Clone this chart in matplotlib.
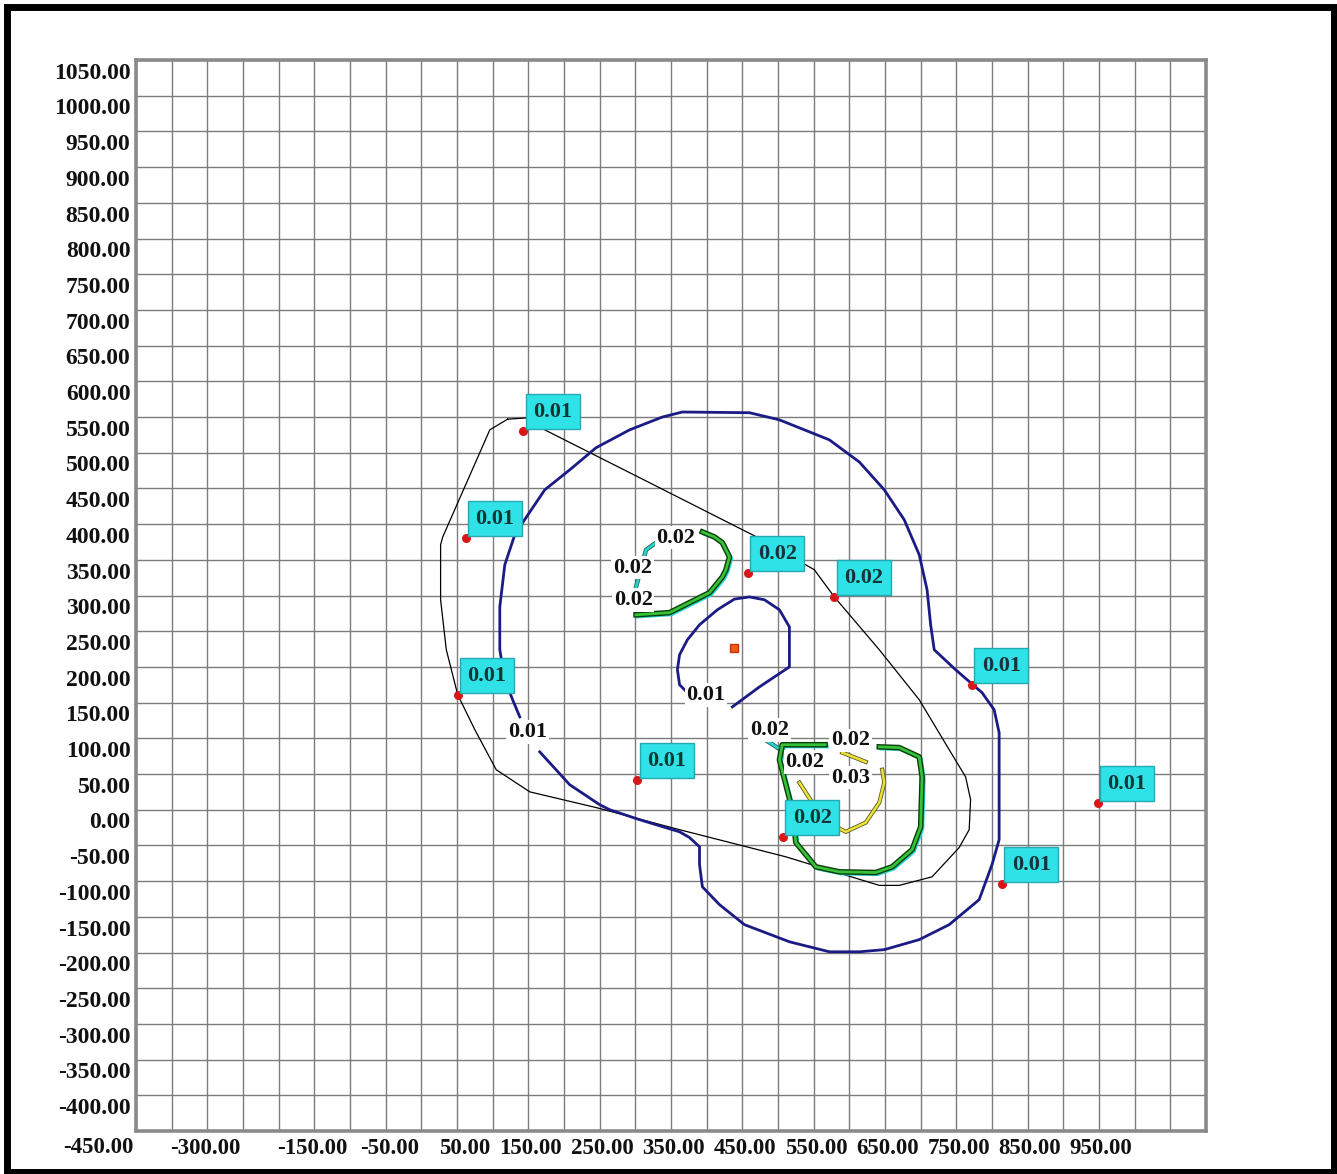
import numpy as np
import matplotlib
matplotlib.use("Agg")
import matplotlib.pyplot as plt
import matplotlib.patheffects as pe
from matplotlib.patches import Rectangle
from matplotlib.transforms import blended_transform_factory, ScaledTranslation

# ---- receptor points and their concentration labels ----
point_x = [93, 12, 408, 529, 722, 1, 253, 457, 764, 898]
point_y = [531, 381, 332, 298, 175, 161, 42, -38, -104, 10]
point_vals = ["0.01", "0.01", "0.02", "0.02", "0.01", "0.01", "0.01", "0.02", "0.01", "0.01"]

# ---- source location ----
source_x = [389]
source_y = [227]

# ---- hull of receptor points (thin black) ----
hull_x = [71, 102, 123, 256, 428, 501, 529, 592, 648, 690, 713, 720, 718, 704, 666,
          620, 592, 461, 312, 195, 102, 55, 25, 1, -15, -23, -23, -20, 46, 71]
hull_y = [547, 549, 532, 465, 378, 336, 298, 224, 154, 84, 46, 14, -28, -53, -94,
          -106, -106, -66, -28, 3, 25, 56, 112, 161, 224, 294, 371, 382, 532, 547]

# ---- 0.01 isoline, outer ----
iso01_outer_x = [88, 78, 67, 60, 60, 67, 81, 92, 123, 158, 195, 242, 288, 316, 410,
                 452, 522, 564, 599, 627, 648, 659, 664, 669, 699, 736, 753, 760, 760,
                 760, 750, 732, 690, 648, 599, 564, 522, 466, 403, 368, 344, 340, 340,
                 326, 312, 256, 214, 200, 158, 116]
iso01_outer_y = [130, 154, 182, 224, 284, 343, 385, 402, 448, 476, 507, 532, 550, 557,
                 556, 546, 518, 487, 448, 406, 357, 308, 259, 224, 196, 164, 140, 108,
                 28, -42, -77, -126, -161, -182, -196, -199, -199, -185, -161, -133,
                 -108, -77, -52, -39, -31, -14, 0, 7, 35, 81]

# ---- 0.01 isoline, inner ring ----
iso01_inner_x = [386, 424, 466, 466, 452, 431, 410, 389, 365, 340, 323, 312, 309, 312, 323]
iso01_inner_y = [144, 172, 200, 256, 280, 294, 298, 295, 280, 259, 238, 217, 196, 175, 164]

# ---- 0.02 isolines ----
iso02_north_x = [344, 361, 372, 382, 377, 372, 354, 326, 298, 251]
iso02_north_y = [389, 382, 374, 354, 336, 326, 304, 290, 276, 273]
iso02_stub_x = [251, 265, 279]
iso02_stub_y = [312, 364, 374]
iso02_south_x = [516, 456, 452, 470, 475, 503, 536, 587, 610, 638, 650, 652, 648, 620, 592]
iso02_south_y = [91, 91, 70, 0, -46, -80, -87, -88, -80, -56, -24, 46, 74, 87, 88]
iso02_tail_x = [426, 449]
iso02_tail_y = [102, 87]

# ---- 0.03 isoline ----
iso03_x = [480, 498, 526, 545, 573, 592, 599, 596]
iso03_y = [38, 10, -21, -31, -18, 10, 38, 56]
iso03_top_x = [540, 573]
iso03_top_y = [80, 67]

# ---- in-line isoline labels ----
iso_label_x = [349, 99, 438, 552, 488, 552, 307, 246, 247]
iso_label_y = [161, 109, 112, 97, 67, 45, 381, 339, 294]
iso_label_txt = ["0.01", "0.01", "0.02", "0.02", "0.02", "0.03", "0.02", "0.02", "0.02"]

# ---- axis tick labels ----
x_tick_vals = [-300, -150, -50, 50, 150, 250, 350, 450, 550, 650, 750, 850, 950]
y_tick_vals = list(range(1050, -401, -50))
corner_val = -450

FONT = "Liberation Serif"

fig = plt.figure(figsize=(13.37, 11.74), dpi=100)
fig.patch.set_facecolor("white")
ax = fig.add_axes([136 / 1337, 43 / 1174, 1070 / 1337, 1071 / 1174])
ax.set_xlim(-450, 1050)
ax.set_ylim(-450, 1050)

ax.set_xticks(np.arange(-450, 1051, 50))
ax.set_yticks(np.arange(-450, 1051, 50))
ax.tick_params(length=0, labelbottom=False, labelleft=False)
ax.grid(True, color="#7c7c7c", linewidth=1.0, zorder=0)
ax.set_axisbelow(True)
for s in ax.spines.values():
    s.set_color("#8a8a8a")
    s.set_linewidth(2.6)

# tick labels: right-aligned to their grid line
tx = blended_transform_factory(ax.transData, ax.transAxes)
ty = blended_transform_factory(ax.transAxes, ax.transData)
lab_kw = dict(fontfamily=FONT, fontweight="bold", color="#111111")
for v in x_tick_vals:
    ax.text(v, 0, f"{v:.2f}", transform=tx + ScaledTranslation(-1.5 / 72, -5 / 72, fig.dpi_scale_trans),
            ha="right", va="top", fontsize=16.5, **lab_kw)
for v in y_tick_vals:
    ax.text(0, v, f"{v:.2f}", transform=ty + ScaledTranslation(-4 / 72, -2 / 72, fig.dpi_scale_trans),
            ha="right", va="top", fontsize=17, **lab_kw)
ax.text(corner_val, 0, f"{corner_val:.2f}",
        transform=tx + ScaledTranslation(-2 / 72, -4 / 72, fig.dpi_scale_trans),
        ha="right", va="top", fontsize=16.5, **lab_kw)

# hull
ax.plot(hull_x, hull_y, color="black", lw=0.9, zorder=2)

# 0.01 isolines
navy = "#1b1b86"
ax.plot(iso01_outer_x, iso01_outer_y, color=navy, lw=2.0, zorder=3, solid_joinstyle="round")
ax.plot(iso01_inner_x, iso01_inner_y, color=navy, lw=2.0, zorder=3, solid_joinstyle="round")

# 0.02 isolines (layered strokes)
green_fx = [pe.SimpleLineShadow(offset=(1.3, -1.3), shadow_color="#27d6d6", alpha=1.0, linewidth=2.6),
            pe.Stroke(linewidth=4.0, foreground="#0b3d0b"), pe.Normal()]
for gx, gy in [(iso02_north_x, iso02_north_y), (iso02_south_x, iso02_south_y)]:
    ax.plot(gx, gy, color="#36c236", lw=2.0, zorder=4, path_effects=green_fx,
            solid_joinstyle="round")
for gx, gy in [(iso02_stub_x, iso02_stub_y), (iso02_tail_x, iso02_tail_y)]:
    ax.plot(gx, gy, color="#2bcfcf", lw=2.0, zorder=4,
            path_effects=[pe.Stroke(linewidth=3.2, foreground="#1d6a4a"), pe.Normal()])

# 0.03 isoline
yellow_fx = [pe.Stroke(linewidth=3.0, foreground="#5a5a20"), pe.Normal()]
ax.plot(iso03_x, iso03_y, color="#ece23a", lw=1.8, zorder=4, path_effects=yellow_fx)
ax.plot(iso03_top_x, iso03_top_y, color="#ece23a", lw=1.8, zorder=4, path_effects=yellow_fx)

# in-line labels
for lx, ly, t in zip(iso_label_x, iso_label_y, iso_label_txt):
    ax.text(lx, ly, t, ha="center", va="center", fontsize=16, zorder=6,
            bbox=dict(boxstyle="square,pad=0.08", fc="white", ec="none"), **lab_kw)

# source marker
ax.plot(source_x, source_y, marker="s", ms=6, color="#f05a14", mec="#d03010", ls="none", zorder=5)

# receptor points with value boxes
ax.plot(point_x, point_y, "o", color="#d81818", ms=5.5, zorder=7)
for px, py, t in zip(point_x, point_y, point_vals):
    ax.annotate(t, (px, py), xytext=(7, 6.5), textcoords="offset points",
                ha="left", va="bottom", fontsize=16, fontfamily=FONT, fontweight="bold",
                color="#123535", zorder=8,
                bbox=dict(boxstyle="square,pad=0.34", fc="#2fe2e8", ec="#25a9b0", lw=1.0))

# outer frame
fig.patches.append(Rectangle((6.5 / 1337, 2.5 / 1174), (1333.5 - 6.5) / 1337, (1171.5 - 6.5) / 1174,
                             transform=fig.transFigure, fill=False, edgecolor="black",
                             linewidth=5.0, zorder=10))

fig.savefig("out.png", dpi=100, facecolor="white")
